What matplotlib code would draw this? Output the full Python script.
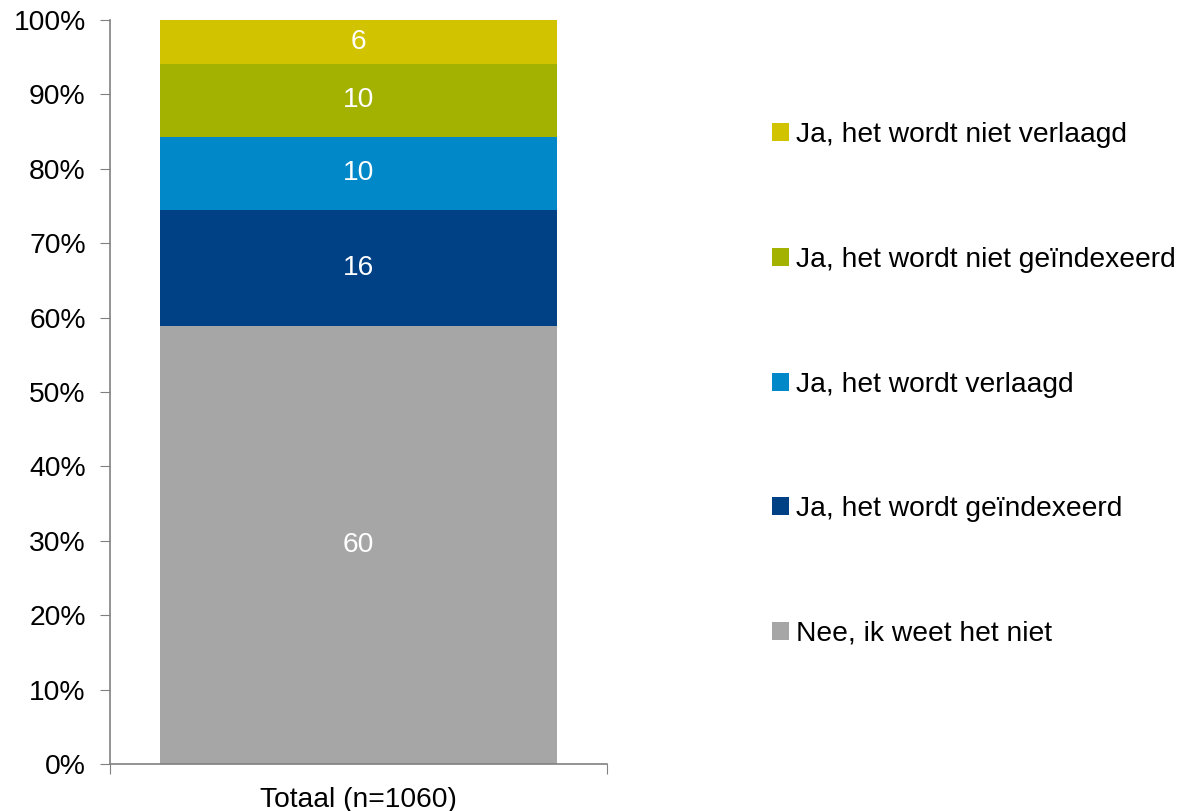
import matplotlib
matplotlib.use("Agg")
import matplotlib.pyplot as plt
import numpy as np

plt.rcParams['font.family'] = ['Liberation Sans', 'DejaVu Sans']

category = ["Totaal (n=1060)"]
series = ["Nee, ik weet het niet", "Ja, het wordt geïndexeerd", "Ja, het wordt verlaagd",
          "Ja, het wordt niet geïndexeerd", "Ja, het wordt niet verlaagd"]
values = [60, 16, 10, 10, 6]
colors = ["#A6A6A6", "#004185", "#0088C8", "#A3B100", "#D2C300"]
yticks = [0, 10, 20, 30, 40, 50, 60, 70, 80, 90, 100]

FS = 20.3

fig = plt.figure(figsize=(11.83, 8.11), dpi=100)
ax = fig.add_axes([110/1183, 1-764/811, 497/1183, 744/811])

total = sum(values)
bottom = 0.0
handles = []
for lab, v, c in zip(series, values, colors):
    h = v / total * 100
    b = ax.bar(0, h, bottom=bottom, width=0.8, color=c, label=lab)
    handles.append(b)
    ax.text(0, bottom + h/2, f"{v}", ha='center', va='center', color='white', fontsize=FS)
    bottom += h

ax.set_xlim(-0.5, 0.5)
ax.set_ylim(0, 100)
ax.set_yticks(yticks)
ax.set_yticklabels([f"{t}%" for t in yticks], fontsize=FS)
ax.set_xticks([-0.5, 0.5], minor=False)
ax.set_xticklabels(["", ""])
ax.tick_params(axis='x', length=7, color='#808080', direction='out')
ax.tick_params(axis='y', length=7, color='#808080', direction='out', pad=10.5)
ax.text(0, -3.1, category[0], ha='center', va='top', fontsize=FS, transform=ax.transData)
for s in ['top', 'right']:
    ax.spines[s].set_visible(False)
for s in ['left', 'bottom']:
    ax.spines[s].set_color('#808080')
    ax.spines[s].set_linewidth(1.2)
ax.spines['bottom'].set_bounds(-0.5, 0.5)

leg = fig.legend(handles[::-1], series[::-1], loc='upper left',
                 bbox_to_anchor=(761/1183, 1-111/811), frameon=False,
                 fontsize=FS, handlelength=0.6, handleheight=0.6,
                 handletextpad=0.25, labelspacing=3.5, borderaxespad=0)

fig.savefig("out.png", dpi=100)
